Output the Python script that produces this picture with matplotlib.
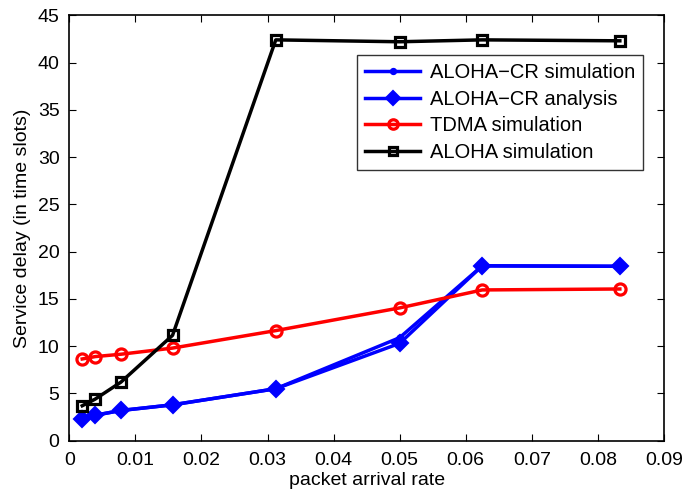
import numpy as np
import matplotlib
matplotlib.use("Agg")
import matplotlib.pyplot as plt

# packet arrival rates used in the runs
rate = [1/512, 1/256, 1/128, 1/64, 1/32, 0.05, 0.0625, 1/12]

# mean service delay, in time slots
aloha_cr_sim = [2.3, 2.7, 3.2, 3.8, 5.5, 10.9, 18.5, 18.45]
aloha_cr_ana = [2.3, 2.7, 3.2, 3.8, 5.5, 10.3, 18.5, 18.45]
tdma_sim = [8.65, 8.9, 9.15, 9.8, 11.65, 14.05, 15.95, 16.05]
aloha_sim = [3.7, 4.4, 6.2, 11.15, 42.4, 42.2, 42.4, 42.3]

plt.rcParams['font.family'] = ['Liberation Sans', 'DejaVu Sans']

fig = plt.figure(figsize=(6.83, 4.93), dpi=100)
ax = fig.add_axes([0.1015, 0.106, 0.8705, 0.863])

lw = 2.5
ax.plot(rate, aloha_cr_sim, '-', color='b', lw=lw, marker='o', ms=5,
        mfc='b', mec='b', label='ALOHA\u2212CR simulation')
ax.plot(rate, aloha_cr_ana, '-', color='b', lw=lw, marker='D', ms=8,
        mfc='b', mec='b', mew=1.5, label='ALOHA\u2212CR analysis')
ax.plot(rate, tdma_sim, '-', color='r', lw=lw, marker='o', ms=8,
        mfc='none', mec='r', mew=2.3, label='TDMA simulation')
ax.plot(rate, aloha_sim, '-', color='k', lw=lw, marker='s', ms=6.5,
        mfc='none', mec='k', mew=2.3, label='ALOHA simulation')

ax.set_xlim(0, 0.09)
ax.set_ylim(0, 45)
ax.set_xticks(np.arange(0, 0.0901, 0.01))
ax.set_xticklabels(['0', '0.01', '0.02', '0.03', '0.04', '0.05',
                    '0.06', '0.07', '0.08', '0.09'])
ax.set_yticks(np.arange(0, 46, 5))
ax.tick_params(direction='in', top=True, right=True, length=5, width=0.8,
               labelsize=14)
ax.tick_params(axis='x', pad=8)
ax.tick_params(axis='y', pad=7)
for s in ax.spines.values():
    s.set_linewidth(1.2)

ax.set_xlabel('packet arrival rate', fontsize=14, labelpad=2)
ax.set_ylabel('Service delay (in time slots)', fontsize=14, labelpad=5)

leg = ax.legend(loc='upper right', bbox_to_anchor=(0.965, 0.907),
                borderaxespad=0, fancybox=False, edgecolor='k',
                fontsize=14.5, handlelength=2.7, labelspacing=0.38,
                borderpad=0.4, handletextpad=0.5, markerscale=0.85)
leg.get_frame().set_linewidth(1.0)

fig.savefig('out.png', dpi=100)
